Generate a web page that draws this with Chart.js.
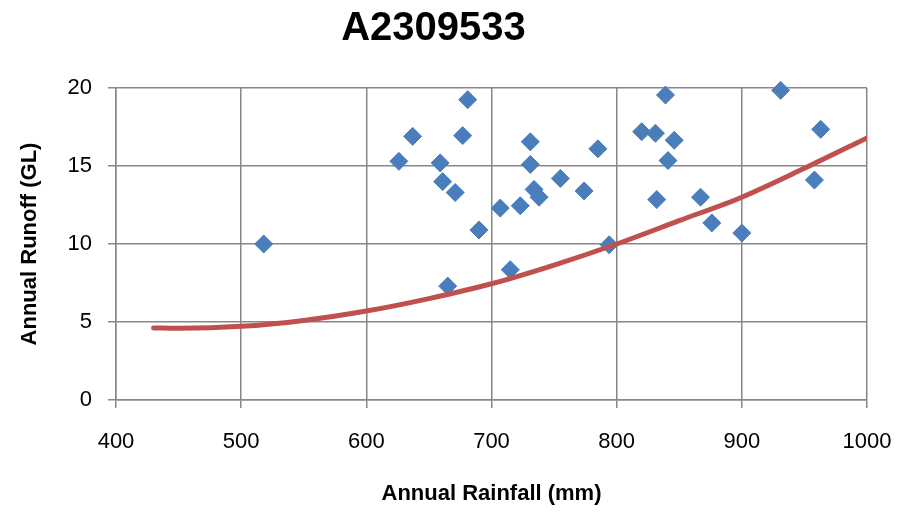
<!DOCTYPE html>
<html>
<head>
<meta charset="utf-8">
<title>A2309533</title>
<script src="https://cdn.jsdelivr.net/npm/chart.js@4.4.1/dist/chart.umd.min.js"></script>
<style>
  html, body { margin: 0; padding: 0; background: #fff; }
  #wrap { width: 917px; height: 512px; }
</style>
</head>
<body>
<div id="wrap"><canvas id="runoffChart" width="917" height="512"></canvas></div>
<script>
// ============================================================
// DATA
// ============================================================
// Observed years: annual rainfall (mm) and runoff (GL)
const rainfall = [
  518, 626, 637, 681, 677, 659, 661, 671, 690, 665, 707,
  723, 715, 731, 731, 734, 738, 755, 774, 785, 794, 820,
  831, 839, 846, 841, 832, 867, 876, 900, 931, 963, 958
];
const runoff = [
  10.0, 15.3, 16.9, 19.25, 16.95, 15.2, 14.0, 13.3, 10.9, 7.3, 12.3,
  12.45, 8.35, 16.55, 15.1, 13.5, 13.0, 14.2, 13.4, 16.1, 9.95, 17.2,
  17.1, 19.55, 16.65, 15.35, 12.85, 13.0, 11.35, 10.7, 19.85, 17.35, 14.1
];

// Polynomial trend line
const trendRainfall = [430, 450, 500, 550, 600, 650, 700, 750, 800, 850, 900, 950, 1000];
const trendRunoff   = [4.62, 4.6, 4.72, 5.1, 5.7, 6.5, 7.45, 8.65, 10.0, 11.5, 13.0, 14.85, 16.8];

// Axis ticks
const xTicks = [400, 500, 600, 700, 800, 900, 1000];
const yTicks = [0, 5, 10, 15, 20];

// ============================================================
// STYLE
// ============================================================
const FONT      = "'Liberation Sans', Arial, sans-serif";
const GRID      = '#878787';
const MARKER    = '#4A7EBB';
const TREND     = '#C0504D';

// ============================================================
// BUILD CHART
// ============================================================
const points = rainfall.map((x, i) => ({ x: x, y: runoff[i] }));
const trend  = trendRainfall.map((x, i) => ({ x: x, y: trendRunoff[i] }));

const ctx = document.getElementById('runoffChart').getContext('2d');
new Chart(ctx, {
  type: 'scatter',
  data: {
    datasets: [
      {
        type: 'line',
        label: 'Trend',
        data: trend,
        borderColor: TREND,
        borderWidth: 5,
        borderCapStyle: 'round',
        borderJoinStyle: 'round',
        pointRadius: 0,
        fill: false,
        cubicInterpolationMode: 'monotone'
      },
      {
        label: 'Runoff',
        data: points,
        clip: false,
        pointStyle: 'rectRot',
        pointRadius: 9,
        pointHoverRadius: 9,
        backgroundColor: MARKER,
        borderColor: MARKER,
        borderWidth: 1
      }
    ]
  },
  options: {
    responsive: false,
    animation: false,
    layout: { padding: { left: 0, right: 50, top: 0, bottom: 0 } },
    plugins: {
      legend: { display: false },
      tooltip: { enabled: false },
      title: {
        display: true,
        text: 'A2309533',
        color: '#000',
        font: { family: FONT, size: 40, weight: 'bold' },
        padding: { top: 5, bottom: 35 }
      }
    },
    scales: {
      x: {
        type: 'linear',
        min: 400,
        max: 1000,
        afterBuildTicks: s => { s.ticks = xTicks.map(v => ({ value: v })); },
        afterFit: s => { s.height = 112; },
        ticks: {
          color: '#000',
          font: { family: FONT, size: 22 },
          padding: 21,
          maxRotation: 0,
          callback: v => String(v)
        },
        grid: { color: GRID, lineWidth: 1.5, tickLength: 8 },
        border: { color: GRID, width: 1.5 },
        title: {
          display: true,
          text: 'Annual Rainfall (mm)',
          color: '#000',
          font: { family: FONT, size: 22, weight: 'bold' },
          padding: { top: 0, bottom: 5 }
        }
      },
      y: {
        type: 'linear',
        min: 0,
        max: 20,
        afterBuildTicks: s => { s.ticks = yTicks.map(v => ({ value: v })); },
        afterFit: s => { s.width = 116; },
        ticks: {
          color: '#000',
          font: { family: FONT, size: 22 },
          padding: 16,
          callback: v => String(v)
        },
        grid: { color: GRID, lineWidth: 1.5, tickLength: 8 },
        border: { color: GRID, width: 1.5 },
        title: {
          display: true,
          text: 'Annual Runoff (GL)',
          color: '#000',
          font: { family: FONT, size: 22, weight: 'bold' },
          padding: { top: 17, bottom: 0 }
        }
      }
    }
  }
});
</script>
</body>
</html>
